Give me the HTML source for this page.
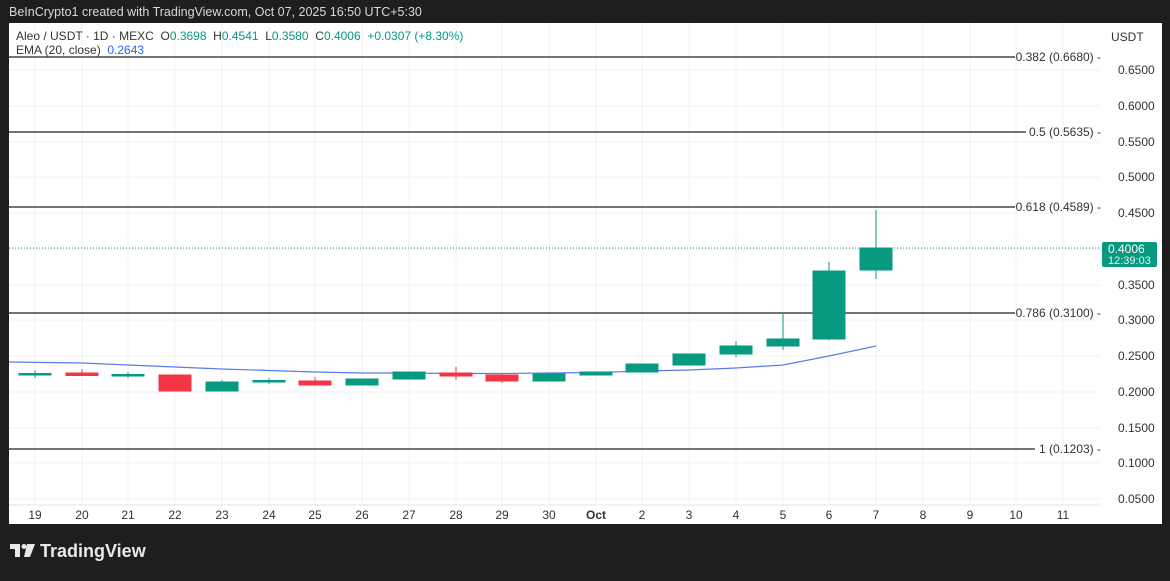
<!DOCTYPE html>
<html><head><meta charset="utf-8"><style>
body{margin:0;background:#1e1e1e;width:1170px;height:576px;overflow:hidden;font-family:"Liberation Sans",sans-serif}
</style></head><body>
<svg width="1170" height="576" xmlns="http://www.w3.org/2000/svg" font-family="Liberation Sans, sans-serif">
<rect width="1170" height="576" fill="#1e1e1e"/>
<text x="9" y="16" fill="#d8d8d8" font-size="12.5">BeInCrypto1 created with TradingView.com, Oct 07, 2025 16:50 UTC+5:30</text>
<rect x="9" y="23" width="1153" height="501" fill="#fff"/>
<g stroke="#f0f1f3" stroke-width="1">
<line x1="35" y1="23" x2="35" y2="505"/><line x1="82" y1="23" x2="82" y2="505"/><line x1="128" y1="23" x2="128" y2="505"/><line x1="175" y1="23" x2="175" y2="505"/><line x1="222" y1="23" x2="222" y2="505"/><line x1="269" y1="23" x2="269" y2="505"/><line x1="315" y1="23" x2="315" y2="505"/><line x1="362" y1="23" x2="362" y2="505"/><line x1="409" y1="23" x2="409" y2="505"/><line x1="456" y1="23" x2="456" y2="505"/><line x1="502" y1="23" x2="502" y2="505"/><line x1="549" y1="23" x2="549" y2="505"/><line x1="596" y1="23" x2="596" y2="505"/><line x1="642" y1="23" x2="642" y2="505"/><line x1="689" y1="23" x2="689" y2="505"/><line x1="736" y1="23" x2="736" y2="505"/><line x1="783" y1="23" x2="783" y2="505"/><line x1="829" y1="23" x2="829" y2="505"/><line x1="876" y1="23" x2="876" y2="505"/><line x1="923" y1="23" x2="923" y2="505"/><line x1="970" y1="23" x2="970" y2="505"/><line x1="1016" y1="23" x2="1016" y2="505"/><line x1="1063" y1="23" x2="1063" y2="505"/>
<line x1="9" y1="70" x2="1100" y2="70"/><line x1="9" y1="106" x2="1100" y2="106"/><line x1="9" y1="142" x2="1100" y2="142"/><line x1="9" y1="177" x2="1100" y2="177"/><line x1="9" y1="213" x2="1100" y2="213"/><line x1="9" y1="249" x2="1100" y2="249"/><line x1="9" y1="285" x2="1100" y2="285"/><line x1="9" y1="320" x2="1100" y2="320"/><line x1="9" y1="356" x2="1100" y2="356"/><line x1="9" y1="392" x2="1100" y2="392"/><line x1="9" y1="428" x2="1100" y2="428"/><line x1="9" y1="463" x2="1100" y2="463"/><line x1="9" y1="499" x2="1100" y2="499"/>
</g>
<line x1="9" y1="505" x2="1100" y2="505" stroke="#e0e3eb"/>
<g stroke="#222" stroke-width="1.2">
<line x1="9" y1="57" x2="1015" y2="57"/><line x1="9" y1="132" x2="1026" y2="132"/><line x1="9" y1="207" x2="1015" y2="207"/><line x1="9" y1="313" x2="1015" y2="313"/><line x1="9" y1="449" x2="1035" y2="449"/>
</g>
<g font-size="12" fill="#333" text-anchor="end">
<text x="1101" y="61">0.382 (0.6680) -</text><text x="1101" y="136">0.5 (0.5635) -</text><text x="1101" y="211">0.618 (0.4589) -</text><text x="1101" y="317">0.786 (0.3100) -</text><text x="1101" y="453">1 (0.1203) -</text>
</g>
<line x1="9" y1="248" x2="1100" y2="248" stroke="#089981" stroke-dasharray="1 2"/>
<polyline fill="none" stroke="#5b7ce8" stroke-width="1.2" points="9,362 82,363 128,365 175,367 222,369 269,370.5 315,372 362,373 409,373 456,373.5 502,373.5 549,373 596,372.5 642,371 689,370 736,368 783,365 829,356 876,346"/>
<g stroke="#089981" fill="#089981">
<line x1="35" y1="370" x2="35" y2="378"/><rect x="19" y="373.5" width="32" height="1.5"/>
<line x1="128" y1="372" x2="128" y2="378"/><rect x="112" y="374.5" width="32" height="1.5"/>
<line x1="222" y1="380" x2="222" y2="391"/><rect x="206" y="382" width="32" height="9"/>
<line x1="269" y1="378" x2="269" y2="384"/><rect x="253" y="380.5" width="32" height="1.5"/>
<rect x="346" y="379" width="32" height="6"/>
<rect x="393" y="372" width="32" height="7"/>
<rect x="533" y="374" width="32" height="7"/>
<rect x="580" y="372" width="32" height="3"/>
<rect x="626" y="364" width="32" height="8"/>
<rect x="673" y="354" width="32" height="11"/>
<line x1="736" y1="341" x2="736" y2="357"/><rect x="720" y="346" width="32" height="8"/>
<line x1="783" y1="314" x2="783" y2="350"/><rect x="767" y="339" width="32" height="7"/>
<line x1="829" y1="262" x2="829" y2="340"/><rect x="813" y="271" width="32" height="68"/>
<line x1="876" y1="210" x2="876" y2="279"/><rect x="860" y="248" width="32" height="22"/>
</g>
<g stroke="#f23645" fill="#f23645">
<line x1="82" y1="369" x2="82" y2="376"/><rect x="66" y="373" width="32" height="2.5"/>
<rect x="159" y="375" width="32" height="16"/>
<line x1="315" y1="377" x2="315" y2="385"/><rect x="299" y="381" width="32" height="4"/>
<line x1="456" y1="367" x2="456" y2="380"/><rect x="440" y="373" width="32" height="3"/>
<line x1="502" y1="373" x2="502" y2="383"/><rect x="486" y="375" width="32" height="6"/>
</g>
<g font-size="12" fill="#333" text-anchor="middle">
<text x="35" y="519">19</text><text x="82" y="519">20</text><text x="128" y="519">21</text><text x="175" y="519">22</text><text x="222" y="519">23</text><text x="269" y="519">24</text><text x="315" y="519">25</text><text x="362" y="519">26</text><text x="409" y="519">27</text><text x="456" y="519">28</text><text x="502" y="519">29</text><text x="549" y="519">30</text><text x="596" y="519" font-weight="bold">Oct</text><text x="642" y="519">2</text><text x="689" y="519">3</text><text x="736" y="519">4</text><text x="783" y="519">5</text><text x="829" y="519">6</text><text x="876" y="519">7</text><text x="923" y="519">8</text><text x="970" y="519">9</text><text x="1016" y="519">10</text><text x="1063" y="519">11</text>
</g>
<g font-size="12" fill="#333">
<text x="1111" y="41">USDT</text>
<text x="1118" y="74">0.6500</text><text x="1118" y="110">0.6000</text><text x="1118" y="146">0.5500</text><text x="1118" y="181">0.5000</text><text x="1118" y="217">0.4500</text><text x="1118" y="289">0.3500</text><text x="1118" y="324">0.3000</text><text x="1118" y="360">0.2500</text><text x="1118" y="396">0.2000</text><text x="1118" y="432">0.1500</text><text x="1118" y="467">0.1000</text><text x="1118" y="503">0.0500</text>
</g>
<rect x="1102" y="242" width="55" height="25" rx="2" fill="#089981"/>
<text x="1108" y="253" font-size="12" fill="#fff">0.4006</text>
<text x="1108" y="264" font-size="11" fill="#e0f5ef">12:39:03</text>
<text x="16" y="40" font-size="12" fill="#333" xml:space="preserve">Aleo / USDT · 1D · MEXC  O<tspan fill="#089981">0.3698</tspan>  H<tspan fill="#089981">0.4541</tspan>  L<tspan fill="#089981">0.3580</tspan>  C<tspan fill="#089981">0.4006  +0.0307 (+8.30%)</tspan></text>
<text x="16" y="54" font-size="12" fill="#333" xml:space="preserve">EMA (20, close)  <tspan fill="#2962ff">0.2643</tspan></text>
<g fill="#e8e8e8">
<rect x="10" y="544" width="10" height="5"/><rect x="15" y="544" width="5" height="13"/><circle cx="24" cy="546.5" r="2.5"/><polygon points="27,544 35,544 30,557 24,557"/>
</g>
<text x="40" y="557" font-size="18" font-weight="bold" fill="#e8e8e8">TradingView</text>
</svg>
</body></html>
